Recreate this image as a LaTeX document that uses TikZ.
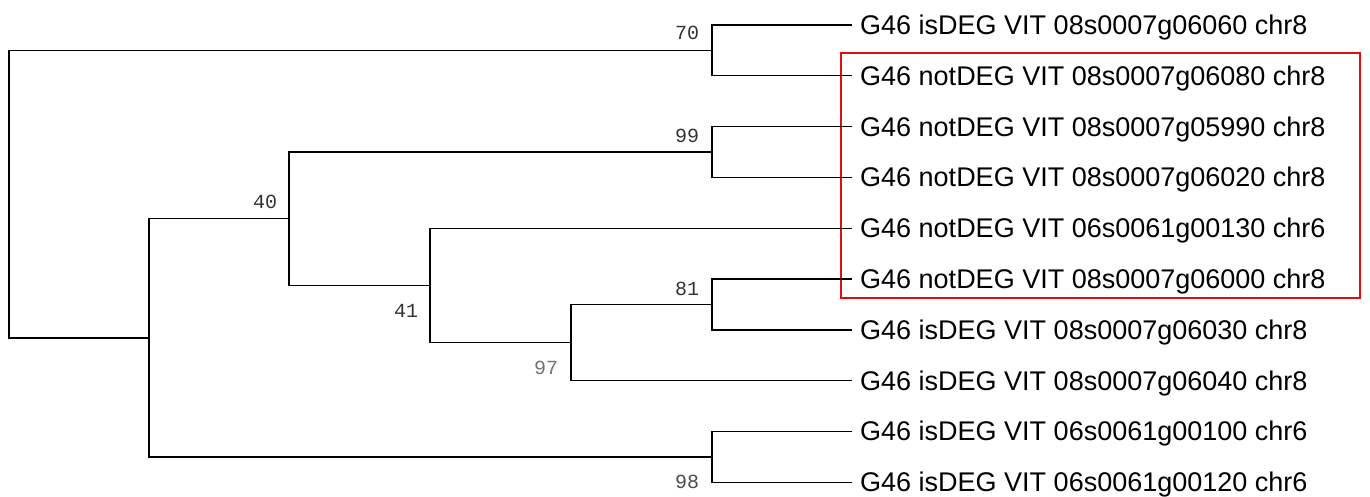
\documentclass[tikz,border=0pt]{standalone}
\usepackage{fontspec}
\setmainfont{Liberation Sans}
\newfontfamily\bootfont{Liberation Mono}
\definecolor{boxred}{RGB}{220,16,16}

\begin{document}
\begin{tikzpicture}[x=1pt,y=-1pt,
    branch/.style={line width=1.4pt,black},
    leaf/.style={anchor=west,inner xsep=8pt,inner ysep=0pt,text height=19pt,text depth=0pt,font=\fontsize{27}{30}\selectfont},
    boot/.style={inner sep=0pt,text=black!80,font={\bootfont\fontsize{20}{22}\selectfont}}]
  \useasboundingbox (0,0) rectangle (1370,497);

  \draw[boxred,line width=2pt] (841,53) rectangle (1360,298);

  \node[leaf] (l1) at (852,25) {G46 isDEG VIT 08s0007g06060 chr8};
  \node[leaf] (l2) at (852,75.8) {G46 notDEG VIT 08s0007g06080 chr8};
  \node[leaf] (l3) at (852,126.6) {G46 notDEG VIT 08s0007g05990 chr8};
  \node[leaf] (l4) at (852,177.4) {G46 notDEG VIT 08s0007g06020 chr8};
  \node[leaf] (l5) at (852,228.2) {G46 notDEG VIT 06s0061g00130 chr6};
  \node[leaf] (l6) at (852,279) {G46 notDEG VIT 08s0007g06000 chr8};
  \node[leaf] (l7) at (852,329.8) {G46 isDEG VIT 08s0007g06030 chr8};
  \node[leaf] (l8) at (852,380.6) {G46 isDEG VIT 08s0007g06040 chr8};
  \node[leaf] (l9) at (852,431.4) {G46 isDEG VIT 06s0061g00100 chr6};
  \node[leaf] (l10) at (852,482.2) {G46 isDEG VIT 06s0061g00120 chr6};

  \coordinate (nA) at (712,50.4);
  \coordinate (nD) at (712,152);
  \coordinate (nG) at (712,304.4);
  \coordinate (nH) at (712,456.8);
  \coordinate (nF) at (571,342.5);
  \coordinate (nE) at (430,285.4);
  \coordinate (nC) at (289,218.7);
  \coordinate (nB) at (149,337.8);
  \coordinate (root) at (9,194.1);

  \draw[branch] (nA) |- (l1.west) (nA) |- (l2.west);
  \draw[branch] (nD) |- (l3.west) (nD) |- (l4.west);
  \draw[branch] (nG) |- (l6.west) (nG) |- (l7.west);
  \draw[branch] (nH) |- (l9.west) (nH) |- (l10.west);
  \draw[branch] (nF) |- (nG) (nF) |- (l8.west);
  \draw[branch] (nE) |- (l5.west) (nE) |- (nF);
  \draw[branch] (nC) |- (nD) (nC) |- (nE);
  \draw[branch] (nB) |- (nC) (nB) |- (nH);
  \draw[branch] (root) |- (nA) (root) |- (nB);

  \node[boot] (b70) at (687,33) {70};
  \node[boot] (b99) at (687,136) {99};
  \node[boot] (b40) at (265,202) {40};
  \node[boot] (b41) at (406,311) {41};
  \node[boot] (b81) at (687,289) {81};
  \node[boot,text=black!55] (b97) at (546,368) {97};
  \node[boot,text=black!70] (b98) at (687,482) {98};
\end{tikzpicture}
\end{document}
